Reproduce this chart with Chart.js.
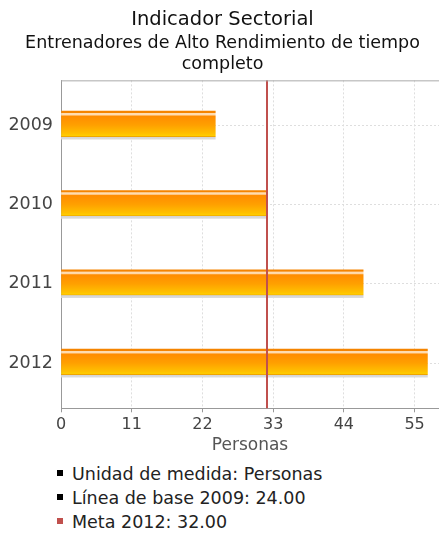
<!DOCTYPE html>
<html>
<head>
<meta charset="utf-8">
<script src="https://cdn.jsdelivr.net/npm/chart.js@4.4.1/dist/chart.umd.min.js"></script>
<style>
    html, body { margin: 0; padding: 0; background: #fff; }
    #wrap { width: 439px; height: 462px; position: relative; }
    #notes { list-style: none; margin: 0; padding: 0 0 0 57px; font-family: "DejaVu Sans", sans-serif; font-size: 17.5px; color: #222; }
    #notes li { height: 24px; line-height: 24px; }
    #notes li span { display: inline-block; width: 6px; height: 6px; margin-right: 9px; vertical-align: middle; position: relative; top: -2px; }
</style>
</head>
<body>
<div id="wrap"><canvas id="myChart"></canvas></div>
<ul id="notes"></ul>
<script>
const years = ['2009', '2010', '2011', '2012'];
const personas = [24, 32, 47, 57];
const xTicks = [0, 11, 22, 33, 44, 55];
const meta = 32;
const notes = [
    { text: 'Unidad de medida: Personas', color: '#000' },
    { text: 'Línea de base 2009: 24.00', color: '#000' },
    { text: 'Meta 2012: 32.00', color: '#c0504d' }
];

const BAR = 28;

// gradient per bar, shading from orange at top to yellow at bottom
function barFill(ctx) {
    const chart = ctx.chart;
    const y = chart.scales.y;
    if (!y || ctx.dataIndex === undefined) return '#ff9900';
    const mid = y.getPixelForValue(ctx.dataIndex);
    if (!isFinite(mid)) return '#ff9900';
    const top = mid - BAR / 2;
    const g = chart.ctx.createLinearGradient(0, top, 0, top + BAR);
    g.addColorStop(0, '#f58400');
    g.addColorStop(0.05, '#f58400');
    g.addColorStop(0.08, '#ffdcb0');
    g.addColorStop(0.13, '#ffdcb0');
    g.addColorStop(0.18, '#ff8c00');
    g.addColorStop(0.5, '#ffa000');
    g.addColorStop(0.8, '#ffc000');
    g.addColorStop(0.87, '#ffcc00');
    g.addColorStop(0.91, '#eda200');
    g.addColorStop(0.92, '#d4d4d4');
    g.addColorStop(1, '#dcdcdc');
    return g;
}

const metaLine = {
    id: 'metaLine',
    afterDatasetsDraw(chart) {
        const { ctx, chartArea, scales } = chart;
        const x = Math.round(scales.x.getPixelForValue(meta));
        ctx.save();
        ctx.strokeStyle = '#c0504d';
        ctx.lineWidth = 2;
        ctx.beginPath();
        ctx.moveTo(x, chartArea.top);
        ctx.lineTo(x, chartArea.bottom);
        ctx.stroke();
        // top frame line of the plot area
        ctx.strokeStyle = '#aaa';
        ctx.lineWidth = 1;
        ctx.beginPath();
        ctx.moveTo(chartArea.left, chartArea.top + 0.5);
        ctx.lineTo(chartArea.right, chartArea.top + 0.5);
        ctx.stroke();
        ctx.restore();
    }
};

new Chart(document.getElementById('myChart').getContext('2d'), {
    type: 'bar',
    data: {
        datasets: [{
            label: 'Personas',
            data: personas.map((v, i) => ({ x: v, y: i })),
            backgroundColor: barFill,
            borderWidth: 0,
            barThickness: BAR
        }]
    },
    options: {
        indexAxis: 'y',
        responsive: true,
        maintainAspectRatio: false,
        animation: false,
        layout: { padding: { left: 6, right: 0, top: 0, bottom: 7.5 } },
        scales: {
            x: {
                type: 'linear',
                min: 0,
                max: 58.8,
                afterBuildTicks: scale => {
                    scale.ticks = xTicks.map(v => ({ value: v }));
                },
                grid: {
                    color: '#dedede',
                    tickColor: '#999',
                    tickLength: 4,
                    drawTicks: true
                },
                border: { color: '#999', dash: [2, 2], width: 1 },
                ticks: {
                    color: '#444',
                    font: { family: 'DejaVu Sans', size: 16 },
                    padding: 3
                },
                title: {
                    display: true,
                    text: 'Personas',
                    color: '#555',
                    font: { family: 'DejaVu Sans', size: 17, lineHeight: 1.0 },
                    padding: { top: 0, bottom: 0 }
                }
            },
            y: {
                type: 'linear',
                reverse: true,
                offset: false,
                min: -0.565,
                max: 3.57,
                afterBuildTicks: scale => {
                    scale.ticks = years.map((_, i) => ({ value: i }));
                },
                grid: {
                    color: '#dedede',
                    offset: false,
                    drawTicks: false
                },
                border: { color: '#999', dash: [2, 2], width: 1 },
                ticks: {
                    color: '#444',
                    font: { family: 'DejaVu Sans', size: 17.5 },
                    padding: 8,
                    callback: v => years[v]
                },
                afterFit: scale => { scale.width = 55; }
            }
        },
        plugins: {
            legend: { display: false },
            tooltip: { enabled: false },
            title: {
                display: true,
                text: 'Indicador Sectorial',
                color: '#111',
                font: { family: 'DejaVu Sans', size: 19.5, weight: 'normal' },
                padding: { top: 8, bottom: 2 }
            },
            subtitle: {
                display: true,
                text: ['Entrenadores de Alto Rendimiento de tiempo', 'completo'],
                color: '#111',
                font: { family: 'DejaVu Sans', size: 17.5, lineHeight: 1.17 },
                padding: { top: 0, bottom: 6 }
            }
        }
    },
    plugins: [metaLine]
});

const list = document.getElementById('notes');
notes.forEach(n => {
    const li = document.createElement('li');
    const sq = document.createElement('span');
    sq.style.background = n.color;
    li.appendChild(sq);
    li.appendChild(document.createTextNode(n.text));
    list.appendChild(li);
});
</script>
</body>
</html>
